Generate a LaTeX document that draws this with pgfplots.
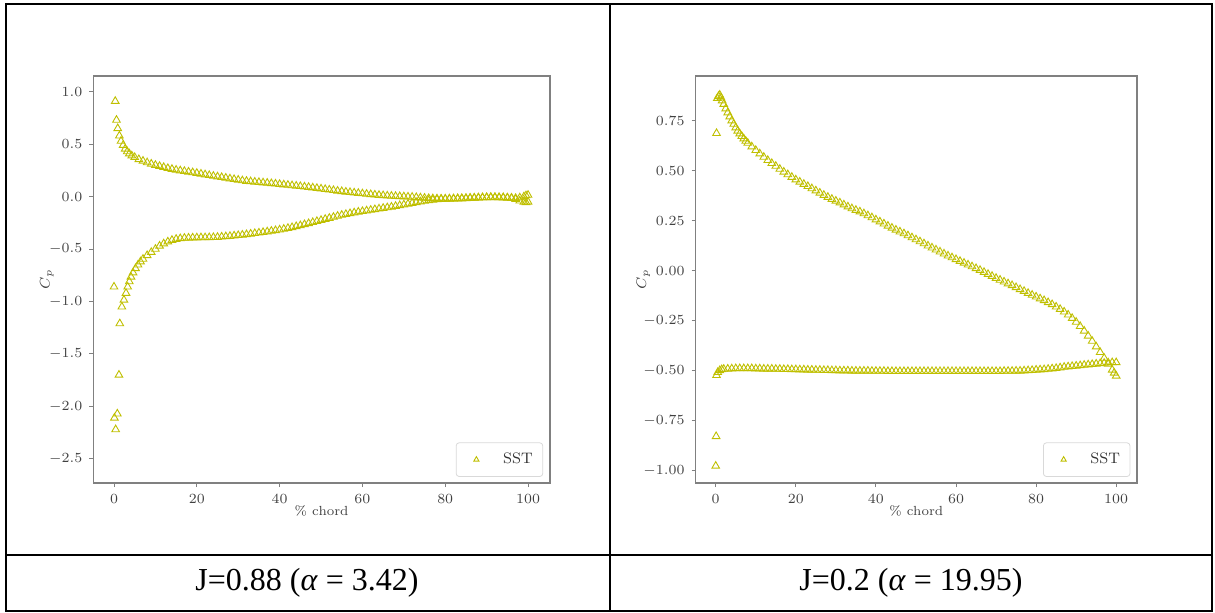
\documentclass[border=0pt]{standalone}
\usepackage{fontspec}
\usepackage{pgfplots}
\pgfplotsset{compat=1.18}
\newfontfamily\capfont{Liberation Serif}
\definecolor{sst}{rgb}{0.75,0.75,0}
\definecolor{spine}{gray}{0.5}
\pgfplotsset{
  cpax/.style={
    scale only axis, anchor=south west, height=203.5pt,
    xmin=-5, xmax=105.3, xtick={0,20,40,60,80,100},
    axis line style={spine, line width=0.55pt},
    every tick/.style={spine, line width=0.5pt},
    major tick length=2pt, tick align=outside, tick pos=left,
    ticklabel style={text=black!75, font=\fontsize{6.6}{7.5}\selectfont},
    xlabel={\% chord}, ylabel={$C_p$},
    label style={text=black!75, font=\fontsize{6.6}{7.5}\selectfont},
    xlabel style={at={(axis description cs:0.5,-0.068)}, anchor=center},
    legend style={at={(0.985,0.015)}, anchor=south east, draw=black!15,
      rounded corners=1.5pt, font=\fontsize{7.6}{8.5}\selectfont, text=black!80,
      inner xsep=3pt, inner ysep=3pt},
    legend cell align=left,
  },
  sstmark/.style={only marks, mark=triangle, mark size=2.2pt, draw=sst,
    mark options={line width=0.45pt, fill=none, draw=sst},
    legend image code/.code={\path[draw=none] (0cm,0cm) (0.65cm,0cm);
      \draw[##1, mark size=1.5pt] plot coordinates {(0.25cm,0cm)};}},
}
\begin{document}
\begin{tikzpicture}
\path (0,0) rectangle (607.5pt,306pt);
% table frame
\draw[line width=0.85pt] (2.85pt,0.65pt) rectangle (606.15pt,304pt);
\draw[line width=0.85pt] (305pt,0.65pt) -- (305pt,304pt);
\draw[line width=0.85pt] (2.85pt,28.65pt) -- (606.15pt,28.65pt);
\node[font=\capfont\fontsize{16}{18}\selectfont, anchor=center] at (153.5pt,14.5pt) {J=0.88 (\textit{α} = 3.42)};
\node[font=\capfont\fontsize{16}{18}\selectfont, anchor=center] at (455.5pt,14.5pt) {J=0.2 (\textit{α} = 19.95)};

\begin{axis}[cpax, at={(46.65pt,64.5pt)}, width=228.35pt,
  ymin=-2.73, ymax=1.15, ytick={-2.5,-2,-1.5,-1,-0.5,0,0.5,1},
  yticklabel style={/pgf/number format/.cd, fixed, fixed zerofill, precision=1},
  ylabel style={at={(axis description cs:-0.102,0.5)}, anchor=center}]
\addplot[sstmark] table {
0.3 0.91
0.6 0.73
0.9 0.65
1.3 0.58
1.7 0.53
2.2 0.49
2.7 0.455
3.2 0.43
3.7 0.41
4.3 0.39
5 0.375
6 0.355
7 0.34
8 0.325
9 0.312
10 0.30
11 0.29
12 0.28
13 0.27
14 0.262
15 0.254
16 0.248
17 0.242
18 0.236
19 0.23
20 0.224
21 0.217
22 0.21
23 0.203
24 0.196
25 0.19
26 0.184
27 0.178
28 0.171
29 0.165
30 0.159
31 0.153
32 0.148
33 0.144
34 0.14
35 0.137
36 0.133
37 0.13
38 0.126
39 0.122
40 0.118
41 0.114
42 0.11
43 0.106
44 0.102
45 0.098
46 0.094
47 0.09
48 0.085
49 0.08
50 0.075
51 0.07
52 0.065
53 0.06
54 0.054
55 0.05
56 0.045
57 0.041
58 0.037
59 0.033
60 0.029
61 0.025
62 0.021
63 0.017
64 0.014
65 0.011
66 0.008
67 0.006
68 0.004
69 0.002
70 0.0
71 -0.002
72 -0.004
73 -0.007
74 -0.01
75 -0.013
76 -0.016
77 -0.018
78 -0.02
79 -0.021
80 -0.022
81 -0.022
82 -0.021
83 -0.02
84 -0.019
85 -0.017
86 -0.015
87 -0.013
88 -0.011
89 -0.009
90 -0.007
91 -0.006
92 -0.006
93 -0.007
94 -0.008
95 -0.01
96 -0.012
97 -0.015
98 -0.01
99 0.0
99.5 0.01
100 0.015
};
\addlegendentry{SST}
\addplot[sstmark, forget plot] table {
0.0 -0.86
0.1 -2.11
0.4 -2.22
0.8 -2.07
1.2 -1.70
1.4 -1.21
1.9 -1.05
2.4 -0.985
2.9 -0.92
3.3 -0.86
3.7 -0.81
4.1 -0.765
4.6 -0.725
5.2 -0.685
5.8 -0.65
6.4 -0.62
7 -0.595
8 -0.56
9 -0.53
10 -0.5
11 -0.47
12 -0.448
13 -0.43
14 -0.415
15 -0.405
16 -0.399
17 -0.395
18 -0.393
19 -0.392
20 -0.391
21 -0.39
22 -0.39
23 -0.389
24 -0.388
25 -0.386
26 -0.383
27 -0.38
28 -0.377
29 -0.373
30 -0.369
31 -0.365
32 -0.36
33 -0.355
34 -0.35
35 -0.345
36 -0.34
37 -0.334
38 -0.328
39 -0.322
40 -0.316
41 -0.309
42 -0.301
43 -0.293
44 -0.284
45 -0.275
46 -0.265
47 -0.255
48 -0.245
49 -0.235
50 -0.225
51 -0.215
52 -0.205
53 -0.195
54 -0.185
55 -0.176
56 -0.168
57 -0.16
58 -0.153
59 -0.146
60 -0.14
61 -0.134
62 -0.128
63 -0.122
64 -0.116
65 -0.11
66 -0.104
67 -0.098
68 -0.091
69 -0.084
70 -0.077
71 -0.07
72 -0.062
73 -0.055
74 -0.048
75 -0.042
76 -0.036
77 -0.031
78 -0.027
79 -0.024
80 -0.022
81 -0.02
82 -0.019
83 -0.017
84 -0.016
85 -0.015
86 -0.013
87 -0.012
88 -0.01
89 -0.009
90 -0.008
91 -0.007
92 -0.008
93 -0.009
94 -0.01
95 -0.012
96 -0.015
97 -0.025
98 -0.04
99 -0.05
99.5 -0.055
100 -0.05
};
\end{axis}

\begin{axis}[cpax, at={(347.85pt,64.5pt)}, width=220.65pt,
  xmax=105.2,
  ymin=-1.06, ymax=0.973, ytick={-1,-0.75,-0.5,-0.25,0,0.25,0.5,0.75},
  yticklabel style={/pgf/number format/.cd, fixed, fixed zerofill, precision=2},
  ylabel style={at={(axis description cs:-0.119,0.5)}, anchor=center}]
\addplot[sstmark] table {
0.2 0.687
0.4 0.862
0.7 0.872
1.0 0.878
1.3 0.865
1.6 0.85
2.0 0.832
2.5 0.81
3.0 0.79
3.5 0.77
4.0 0.75
4.5 0.733
5.0 0.715
5.5 0.699
6.0 0.685
6.5 0.672
7.0 0.66
7.5 0.648
8 0.638
9 0.62
10 0.602
11 0.585
12 0.568
13 0.552
14 0.537
15 0.523
16 0.508
17 0.494
18 0.481
19 0.468
20 0.455
21 0.444
22 0.433
23 0.422
24 0.411
25 0.4
26 0.389
27 0.378
28 0.368
29 0.358
30 0.349
31 0.34
32 0.33
33 0.32
34 0.311
35 0.303
36 0.295
37 0.286
38 0.276
39 0.266
40 0.255
41 0.245
42 0.235
43 0.224
44 0.214
45 0.204
46 0.195
47 0.186
48 0.176
49 0.166
50 0.156
51 0.146
52 0.136
53 0.125
54 0.115
55 0.105
56 0.095
57 0.085
58 0.075
59 0.066
60 0.057
61 0.048
62 0.039
63 0.03
64 0.021
65 0.012
66 0.003
67 -0.007
68 -0.017
69 -0.027
70 -0.037
71 -0.046
72 -0.055
73 -0.064
74 -0.073
75 -0.083
76 -0.093
77 -0.102
78 -0.112
79 -0.121
80 -0.13
81 -0.139
82 -0.148
83 -0.158
84 -0.168
85 -0.18
86 -0.192
87 -0.205
88 -0.22
89 -0.237
90 -0.256
91 -0.277
92 -0.3
93 -0.325
94 -0.351
95 -0.379
96 -0.407
97 -0.436
98 -0.466
99 -0.495
99.5 -0.51
100 -0.525
};
\addlegendentry{SST}
\addplot[sstmark, forget plot] table {
0.0 -0.975
0.1 -0.827
0.2 -0.522
0.5 -0.507
1 -0.498
1.5 -0.493
2 -0.491
3 -0.49
4 -0.489
5 -0.488
6 -0.488
7 -0.488
8 -0.488
9 -0.488
10 -0.489
11 -0.489
12 -0.49
13 -0.49
14 -0.49
15 -0.491
16 -0.491
17 -0.492
18 -0.492
19 -0.493
20 -0.493
21 -0.494
22 -0.494
23 -0.495
24 -0.495
25 -0.496
26 -0.496
27 -0.497
28 -0.497
29 -0.498
30 -0.498
31 -0.499
32 -0.499
33 -0.499
34 -0.5
35 -0.5
36 -0.5
37 -0.5
38 -0.5
39 -0.501
40 -0.501
41 -0.501
42 -0.501
43 -0.502
44 -0.502
45 -0.502
46 -0.502
47 -0.502
48 -0.502
49 -0.502
50 -0.502
51 -0.502
52 -0.502
53 -0.502
54 -0.502
55 -0.502
56 -0.502
57 -0.502
58 -0.502
59 -0.502
60 -0.502
61 -0.502
62 -0.502
63 -0.502
64 -0.502
65 -0.502
66 -0.502
67 -0.502
68 -0.502
69 -0.502
70 -0.502
71 -0.502
72 -0.501
73 -0.501
74 -0.501
75 -0.5
76 -0.5
77 -0.499
78 -0.498
79 -0.497
80 -0.495
81 -0.494
82 -0.493
83 -0.491
84 -0.489
85 -0.487
86 -0.484
87 -0.481
88 -0.479
89 -0.477
90 -0.475
91 -0.473
92 -0.471
93 -0.469
94 -0.467
95 -0.465
96 -0.463
97 -0.461
98 -0.459
99 -0.458
100 -0.458
};
\end{axis}
\end{tikzpicture}
\end{document}
